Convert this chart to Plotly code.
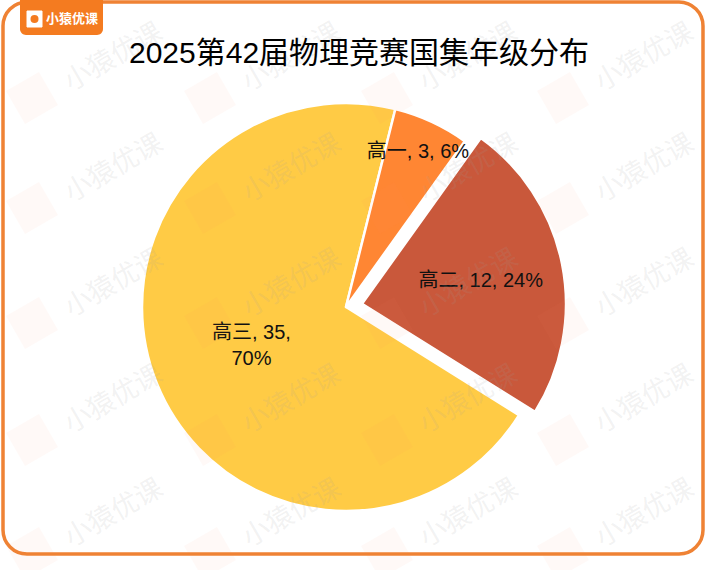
import math
import plotly.graph_objects as go

W, H = 706, 570

# ---- data (ordered so the small slice is drawn last, counter-clockwise) ----
grades = ["高三", "高二", "高一"]
counts = [35, 12, 3]
pulls = [0, 0.08, 0]
colors = ["#FFCB45", "#C9583B", "#FF8633"]
templates = ["%{label}, %{value},<br>%{percent:.0%}",
             "%{label}, %{value}, %{percent:.0%}",
             "%{label}, %{value}, %{percent:.0%}"]
title_text = "2025第42届物理竞赛国集年级分布"
brand = "小猿优课"

FONT = "Liberation Sans, Arial, Noto Sans CJK SC, sans-serif"


def px(x):
    return x / W


def py(y):
    return 1 - y / H


# pie geometry (pixels)
cx, cy, r = 346, 307, 204
half = r * (1 + max(pulls))

fig = go.Figure(go.Pie(
    labels=grades, values=counts, pull=pulls, sort=False,
    direction="counterclockwise", rotation=122,
    marker=dict(colors=colors, line=dict(color="white", width=2.5)),
    texttemplate=templates, textposition="inside",
    insidetextorientation="horizontal",
    textfont=dict(family=FONT, size=20, color="#111111"),
    hoverinfo="label+value+percent",
    domain=dict(x=[px(cx - half), px(cx + half)], y=[py(cy + half), py(cy - half)]),
    showlegend=False,
))

shapes = []
annotations = []

# watermark grid
wm_cols = [112, 290, 467, 643]
wm_rows = [55, 165, 280, 397, 510]
for yy in wm_rows:
    for xx in wm_cols:
        annotations.append(dict(
            x=px(xx), y=py(yy), xref="paper", yref="paper", text=brand,
            xanchor="center", yanchor="middle",
            showarrow=False, textangle=-30,
            font=dict(family="Noto Sans CJK SC", size=27, color="rgba(160,160,160,0.15)"),
        ))
        # faint logo card
        lx, ly, s = xx - 80, yy + 43, 19
        ang = math.radians(-30)
        pts = []
        for (dx, dy) in [(-s, -s), (s, -s), (s, s), (-s, s)]:
            rx = dx * math.cos(ang) - dy * math.sin(ang)
            ry = dx * math.sin(ang) + dy * math.cos(ang)
            pts.append((px(lx + rx), py(ly + ry)))
        path = "M " + " L ".join(f"{a:.5f},{b:.5f}" for a, b in pts) + " Z"
        shapes.append(dict(type="path", path=path, xref="paper", yref="paper",
                           fillcolor="rgba(255,140,100,0.05)", line=dict(width=0), layer="above"))


def rounded_rect(x0, y0, x1, y1, rad):
    k = 0.5523 * rad

    def P(x, y):
        return f"{px(x):.5f},{py(y):.5f}"
    segs = [
        "M " + P(x0 + rad, y0),
        "L " + P(x1 - rad, y0),
        "C " + P(x1 - rad + k, y0) + " " + P(x1, y0 + rad - k) + " " + P(x1, y0 + rad),
        "L " + P(x1, y1 - rad),
        "C " + P(x1, y1 - rad + k) + " " + P(x1 - rad + k, y1) + " " + P(x1 - rad, y1),
        "L " + P(x0 + rad, y1),
        "C " + P(x0 + rad - k, y1) + " " + P(x0, y1 - rad + k) + " " + P(x0, y1 - rad),
        "L " + P(x0, y0 + rad),
        "C " + P(x0, y0 + rad - k) + " " + P(x0 + rad - k, y0) + " " + P(x0 + rad, y0),
        "Z"]
    return " ".join(segs)


shapes.append(dict(type="path", path=rounded_rect(3, 2, 703, 554, 24),
                   xref="paper", yref="paper", line=dict(color="#EF8234", width=3.5),
                   fillcolor="rgba(0,0,0,0)", layer="above"))


def badge_path(x0, y0, x1, y1, rad):
    k = 0.5523 * rad

    def P(x, y):
        return f"{px(x):.5f},{py(y):.5f}"
    return " ".join([
        "M " + P(x0, y0), "L " + P(x1, y0), "L " + P(x1, y1 - rad),
        "C " + P(x1, y1 - rad + k) + " " + P(x1 - rad + k, y1) + " " + P(x1 - rad, y1),
        "L " + P(x0 + rad, y1),
        "C " + P(x0 + rad - k, y1) + " " + P(x0, y1 - rad + k) + " " + P(x0, y1 - rad),
        "Z"])


shapes.append(dict(type="path", path=badge_path(20, 0, 103, 35, 6), xref="paper", yref="paper",
                   fillcolor="#F47B20", line=dict(width=0), layer="above"))
shapes.append(dict(type="rect", x0=px(27), x1=px(42), y0=py(27), y1=py(11), xref="paper", yref="paper",
                   fillcolor="white", line=dict(color="white", width=1), layer="above"))
shapes.append(dict(type="circle", x0=px(30.5), x1=px(38.5), y0=py(23), y1=py(15), xref="paper", yref="paper",
                   fillcolor="#F47B20", line=dict(width=0), layer="above"))
annotations.append(dict(x=px(72), y=py(18), xref="paper", yref="paper", text="<b>" + brand + "</b>",
                        xanchor="center", yanchor="middle",
                        showarrow=False, font=dict(family="Noto Sans CJK SC", size=13, color="white")))

# title
annotations.append(dict(x=px(359), y=py(52), xref="paper", yref="paper", text=title_text,
                        xanchor="center", yanchor="middle",
                        showarrow=False, font=dict(family=FONT, size=30, color="#000000")))

fig.update_layout(
    width=W, height=H, margin=dict(l=0, r=0, t=0, b=0),
    paper_bgcolor="white", plot_bgcolor="white",
    shapes=shapes, annotations=annotations,
    uniformtext=dict(minsize=20, mode="show"),
)

fig.write_html("out.html", config={"displayModeBar": False},
               post_script="document.body.style.margin='0';")
